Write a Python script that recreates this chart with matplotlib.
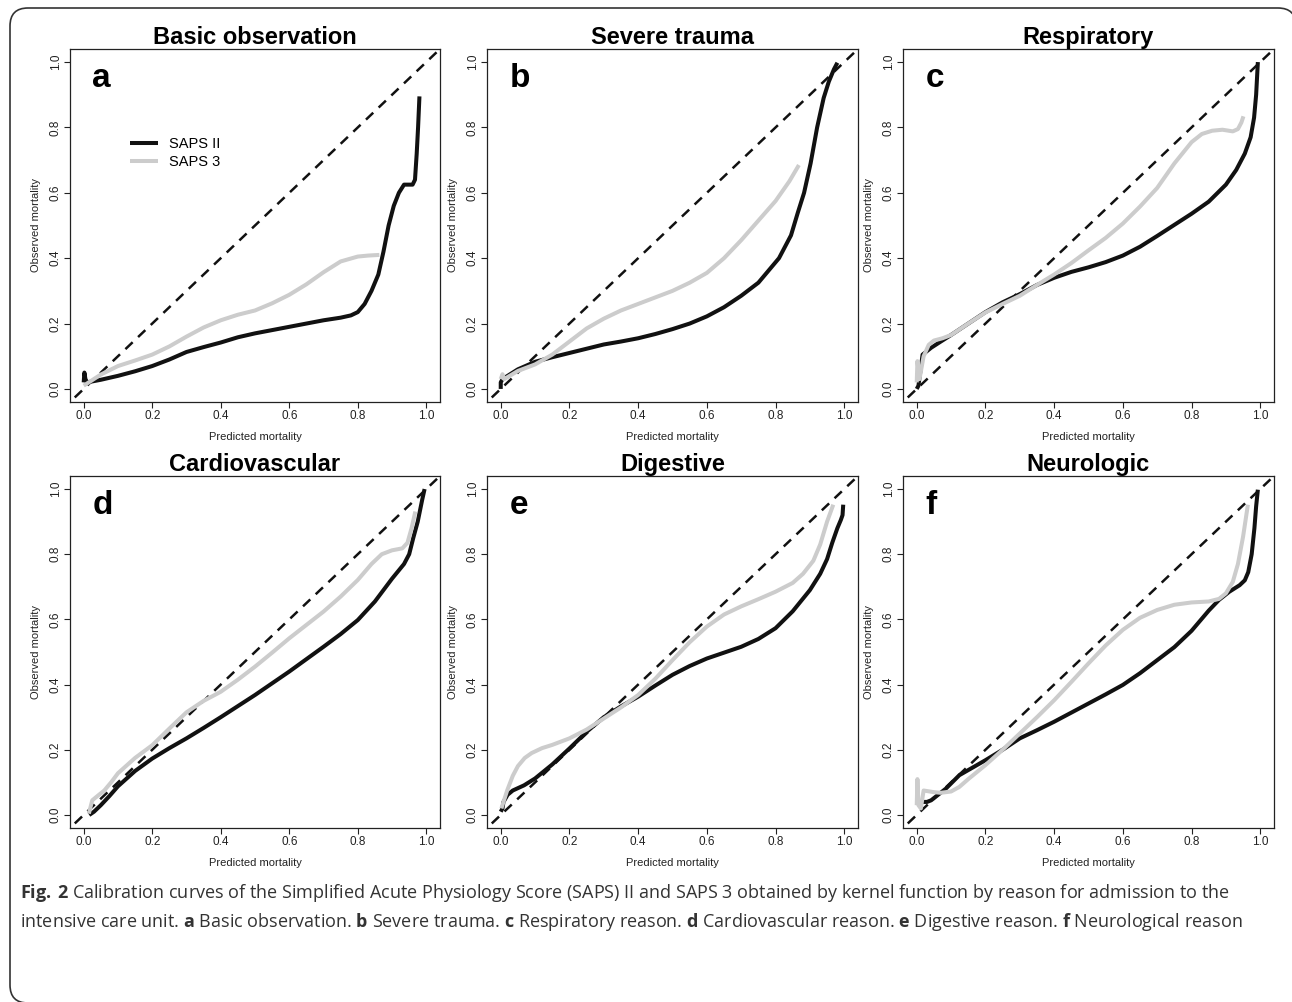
import matplotlib.pyplot as plt
from matplotlib.path import Path
from matplotlib.patches import PathPatch

plt.rcParams['font.family'] = ['Liberation Sans', 'DejaVu Sans']
plt.rcParams['mathtext.fontset'] = 'custom'
plt.rcParams['mathtext.bf'] = 'Open Sans:bold'
plt.rcParams['mathtext.rm'] = 'Open Sans'

# ---- data (predicted, observed) ----
titles = ['Basic observation', 'Severe trauma', 'Respiratory',
          'Cardiovascular', 'Digestive', 'Neurologic']
letters = ['a', 'b', 'c', 'd', 'e', 'f']
series_names = ['SAPS II', 'SAPS 3']

a_saps2_x = [0.0, 0.002, 0.005, 0.01, 0.05, 0.1, 0.15, 0.2, 0.25, 0.3, 0.35, 0.4, 0.45, 0.5, 0.55,
             0.6, 0.65, 0.7, 0.75, 0.78, 0.8, 0.82, 0.84, 0.86, 0.875, 0.89, 0.905, 0.92, 0.935,
             0.96, 0.967, 0.972, 0.976, 0.98]
a_saps2_y = [0.02, 0.05, 0.03, 0.02, 0.028, 0.04, 0.054, 0.07, 0.09, 0.113, 0.128, 0.142, 0.158, 0.17,
             0.18, 0.19, 0.2, 0.21, 0.218, 0.225, 0.235, 0.26, 0.3, 0.35, 0.42, 0.5, 0.56, 0.6, 0.625,
             0.625, 0.64, 0.72, 0.8, 0.895]
a_saps3_x = [0.0, 0.05, 0.1, 0.15, 0.2, 0.25, 0.3, 0.35, 0.4, 0.45, 0.5, 0.55, 0.6, 0.65, 0.7, 0.75,
             0.8, 0.83, 0.863]
a_saps3_y = [0.01, 0.044, 0.07, 0.087, 0.105, 0.13, 0.16, 0.188, 0.21, 0.227, 0.24, 0.262, 0.288, 0.32,
             0.357, 0.39, 0.405, 0.408, 0.41]

b_saps2_x = [0.0, 0.0, 0.005, 0.05, 0.1, 0.15, 0.2, 0.25, 0.3, 0.35, 0.4, 0.45, 0.5, 0.55, 0.6, 0.65,
             0.7, 0.75, 0.81, 0.845, 0.865, 0.883, 0.902, 0.921, 0.94, 0.955, 0.97, 0.98]
b_saps2_y = [0.0, 0.02, 0.03, 0.06, 0.083, 0.097, 0.11, 0.123, 0.136, 0.145, 0.155, 0.168, 0.183, 0.2,
             0.222, 0.25, 0.285, 0.325, 0.4, 0.47, 0.54, 0.6, 0.69, 0.8, 0.89, 0.94, 0.978, 0.998]
b_saps3_x = [0.0, 0.005, 0.01, 0.05, 0.1, 0.15, 0.2, 0.25, 0.3, 0.35, 0.4, 0.45, 0.5, 0.55, 0.6, 0.65,
             0.7, 0.75, 0.8, 0.84, 0.868]
b_saps3_y = [0.03, 0.045, 0.03, 0.055, 0.075, 0.105, 0.145, 0.185, 0.215, 0.24, 0.26, 0.28, 0.3, 0.325,
             0.355, 0.4, 0.455, 0.515, 0.575, 0.635, 0.685]

c_saps2_x = [0.0, 0.005, 0.01, 0.017, 0.042, 0.07, 0.1, 0.15, 0.2, 0.25, 0.3, 0.35, 0.4, 0.45, 0.5,
             0.55, 0.6, 0.65, 0.7, 0.75, 0.8, 0.85, 0.9, 0.93, 0.955, 0.972, 0.982, 0.988, 0.993]
c_saps2_y = [0.0, 0.01, 0.05, 0.105, 0.126, 0.145, 0.165, 0.2, 0.235, 0.265, 0.29, 0.318, 0.34, 0.358,
             0.372, 0.388, 0.408, 0.435, 0.468, 0.502, 0.536, 0.573, 0.625, 0.67, 0.72, 0.77, 0.83,
             0.9, 1.0]
c_saps3_x = [0.0, 0.002, 0.008, 0.02, 0.035, 0.05, 0.075, 0.1, 0.15, 0.2, 0.25, 0.3, 0.35, 0.4, 0.45,
             0.5, 0.55, 0.6, 0.65, 0.7, 0.75, 0.8, 0.83, 0.86, 0.89, 0.92, 0.935, 0.945, 0.951]
c_saps3_y = [0.02, 0.085, 0.03, 0.1, 0.135, 0.148, 0.155, 0.165, 0.2, 0.234, 0.26, 0.285, 0.318, 0.35,
             0.385, 0.424, 0.462, 0.506, 0.558, 0.615, 0.69, 0.755, 0.78, 0.79, 0.793, 0.788, 0.795,
             0.815, 0.834]

d_saps2_x = [0.016, 0.03, 0.05, 0.075, 0.1, 0.15, 0.2, 0.25, 0.3, 0.35, 0.4, 0.45, 0.5, 0.55, 0.6,
             0.65, 0.7, 0.75, 0.8, 0.85, 0.9, 0.935, 0.95, 0.962, 0.975, 0.988, 0.995]
d_saps2_y = [0.0, 0.01, 0.03, 0.058, 0.088, 0.135, 0.173, 0.205, 0.235, 0.267, 0.3, 0.334, 0.368, 0.404,
             0.44, 0.478, 0.516, 0.555, 0.598, 0.655, 0.725, 0.77, 0.8, 0.85, 0.9, 0.967, 1.0]
d_saps3_x = [0.015, 0.025, 0.04, 0.06, 0.08, 0.1, 0.15, 0.2, 0.25, 0.3, 0.35, 0.4, 0.45, 0.5, 0.55,
             0.6, 0.65, 0.7, 0.75, 0.8, 0.84, 0.87, 0.9, 0.93, 0.945, 0.957, 0.968]
d_saps3_y = [0.004, 0.045, 0.058, 0.075, 0.1, 0.128, 0.175, 0.214, 0.265, 0.315, 0.35, 0.378, 0.415,
             0.455, 0.498, 0.542, 0.583, 0.624, 0.67, 0.721, 0.77, 0.8, 0.812, 0.818, 0.835, 0.88, 0.931]

e_saps2_x = [0.0, 0.005, 0.008, 0.02, 0.035, 0.068, 0.1, 0.15, 0.2, 0.25, 0.3, 0.35, 0.4, 0.45, 0.5,
             0.55, 0.6, 0.65, 0.7, 0.75, 0.8, 0.85, 0.9, 0.93, 0.95, 0.965, 0.98, 0.99, 0.995, 0.997]
e_saps2_y = [0.01, 0.02, 0.04, 0.062, 0.075, 0.091, 0.112, 0.155, 0.204, 0.255, 0.3, 0.333, 0.363, 0.397,
             0.43, 0.457, 0.48, 0.498, 0.516, 0.54, 0.573, 0.625, 0.69, 0.74, 0.785, 0.835, 0.88, 0.905,
             0.92, 0.952]
e_saps3_x = [0.002, 0.019, 0.035, 0.05, 0.07, 0.09, 0.12, 0.15, 0.2, 0.25, 0.3, 0.35, 0.4, 0.45, 0.5,
             0.55, 0.6, 0.65, 0.7, 0.75, 0.8, 0.85, 0.88, 0.91, 0.93, 0.95, 0.968]
e_saps3_y = [0.02, 0.076, 0.12, 0.15, 0.175, 0.19, 0.205, 0.215, 0.235, 0.262, 0.296, 0.33, 0.368, 0.418,
             0.475, 0.53, 0.578, 0.615, 0.64, 0.662, 0.685, 0.712, 0.74, 0.78, 0.83, 0.9, 0.952]

f_saps2_x = [0.002, 0.03, 0.042, 0.085, 0.124, 0.2, 0.25, 0.3, 0.35, 0.4, 0.45, 0.5, 0.55, 0.6, 0.65,
             0.7, 0.75, 0.8, 0.85, 0.88, 0.91, 0.94, 0.955, 0.965, 0.975, 0.983, 0.988, 0.993]
f_saps2_y = [0.04, 0.04, 0.045, 0.081, 0.122, 0.168, 0.2, 0.235, 0.26, 0.286, 0.314, 0.342, 0.37, 0.399,
             0.435, 0.475, 0.515, 0.565, 0.627, 0.66, 0.685, 0.705, 0.72, 0.745, 0.8, 0.88, 0.947, 0.998]
f_saps3_x = [0.0, 0.002, 0.005, 0.012, 0.02, 0.05, 0.07, 0.1, 0.124, 0.15, 0.2, 0.25, 0.3, 0.35, 0.4,
             0.45, 0.5, 0.55, 0.6, 0.65, 0.7, 0.75, 0.8, 0.85, 0.88, 0.9, 0.92, 0.935, 0.95, 0.964]
f_saps3_y = [0.03, 0.11, 0.03, 0.02, 0.075, 0.07, 0.068, 0.072, 0.086, 0.11, 0.153, 0.2, 0.25, 0.3, 0.352,
             0.408, 0.465, 0.52, 0.568, 0.605, 0.629, 0.645, 0.652, 0.655, 0.663, 0.68, 0.715, 0.77,
             0.854, 0.952]

saps2 = [(a_saps2_x, a_saps2_y), (b_saps2_x, b_saps2_y), (c_saps2_x, c_saps2_y),
         (d_saps2_x, d_saps2_y), (e_saps2_x, e_saps2_y), (f_saps2_x, f_saps2_y)]
saps3 = [(a_saps3_x, a_saps3_y), (b_saps3_x, b_saps3_y), (c_saps3_x, c_saps3_y),
         (d_saps3_x, d_saps3_y), (e_saps3_x, e_saps3_y), (f_saps3_x, f_saps3_y)]

ticks = [0.0, 0.2, 0.4, 0.6, 0.8, 1.0]
tick_labels = ['0.0', '0.2', '0.4', '0.6', '0.8', '1.0']

caption_1 = (r'$\mathbf{Fig.\,2}$ Calibration curves of the Simplified Acute Physiology Score (SAPS) II '
             'and SAPS 3 obtained by kernel function by reason for admission to the')
caption_2 = (r'intensive care unit. $\mathbf{a}$ Basic observation. $\mathbf{b}$ Severe trauma. '
             r'$\mathbf{c}$ Respiratory reason. $\mathbf{d}$ Cardiovascular reason. '
             r'$\mathbf{e}$ Digestive reason. $\mathbf{f}$ Neurological reason')

W, H = 1292, 1002
fig = plt.figure(figsize=(W / 100, H / 100), dpi=100)

# axes boxes in pixels: left, top, right, bottom
cols = [(70, 440), (487, 858), (903, 1274)]
rows = [(49, 402), (476, 828)]

BLACK = '#111111'
GREY = '#cccccc'

for i in range(6):
    l, r = cols[i % 3]
    t, b = rows[i // 3]
    ax = fig.add_axes([l / W, (H - b) / H, (r - l) / W, (b - t) / H])
    ax.plot([-0.1, 1.1], [-0.1, 1.1], color=BLACK, lw=1.8, dashes=(4, 3))
    ax.plot(*saps2[i], color=BLACK, lw=2.9, solid_capstyle='butt', solid_joinstyle='round',
            label=series_names[0])
    ax.plot(*saps3[i], color=GREY, lw=2.9, solid_capstyle='butt', solid_joinstyle='round',
            label=series_names[1])
    ax.set_xlim(-0.04, 1.04)
    ax.set_ylim(-0.04, 1.04)
    ax.set_xticks(ticks)
    ax.set_xticklabels(tick_labels)
    ax.set_yticks(ticks)
    ax.set_yticklabels(tick_labels, rotation=90, va='center')
    ax.tick_params(labelsize=8.5, length=4, width=0.8, pad=2, colors='#222222')
    for s in ax.spines.values():
        s.set_linewidth(0.9)
        s.set_color('#222222')
    ax.set_xlabel('Predicted mortality', fontsize=8, labelpad=7, color='#222222')
    ax.set_ylabel('Observed mortality', fontsize=8, labelpad=6, color='#222222')
    ax.set_title(titles[i], fontsize=17, fontweight='bold', pad=3)
    ax.text(0.025, 0.95, letters[i], fontsize=24, fontweight='bold', ha='left', va='center')
    if i == 0:
        ax.legend(loc='upper left', bbox_to_anchor=(0.162, 0.75), frameon=False, fontsize=10.5,
                  handlelength=1.9, handletextpad=0.8, labelspacing=0.25, borderpad=0,
                  borderaxespad=0)

fig.text(20 / W, 1 - 893 / H, caption_1, fontsize=12.95, family='Open Sans', color='#333333',
         va='center', ha='left')
fig.text(20 / W, 1 - 922 / H, caption_2, fontsize=12.95, family='Open Sans', color='#333333',
         va='center', ha='left')

# page frame: left edge, top edge and rounded corners only (pixel positions, y from top)
rad = 18
fx0, fy0, fx1, fy1 = 10, 8, 1296, 1003
pts = [(fx0 + rad, fy1), (fx0, fy1), (fx0, fy1 - rad), (fx0, fy0 + rad), (fx0, fy0),
       (fx0 + rad, fy0), (fx1 - rad, fy0), (fx1, fy0), (fx1, fy0 + rad)]
codes = [Path.MOVETO, Path.CURVE3, Path.CURVE3, Path.LINETO, Path.CURVE3, Path.CURVE3,
         Path.LINETO, Path.CURVE3, Path.CURVE3]
frame_path = Path([(x / W, 1 - y / H) for x, y in pts], codes)
fig.add_artist(PathPatch(frame_path, transform=fig.transFigure, fill=False, ec='#333333', lw=1.2))

fig.savefig('out.png', dpi=100)
